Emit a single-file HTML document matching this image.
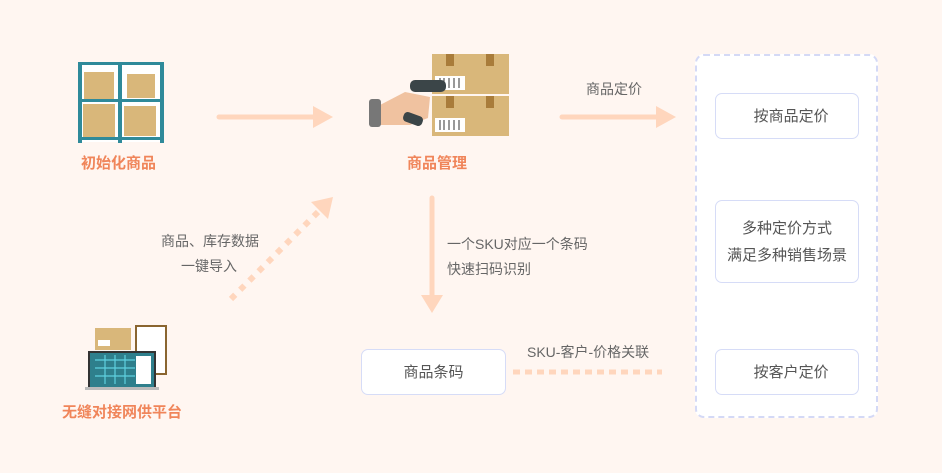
<!DOCTYPE html>
<html><head><meta charset="utf-8"><style>
body{margin:0;width:942px;height:473px;background:#fff6f1;position:relative;overflow:hidden;font-family:"Liberation Sans","Noto Sans CJK SC",sans-serif;}
.t{position:absolute;color:#666;font-size:14px;white-space:nowrap;line-height:24px}
.o{position:absolute;color:#f0855a;font-size:15px;font-weight:bold;white-space:nowrap}
.box{position:absolute;background:#fff;border:1px solid #d6dcf7;border-radius:7px;box-sizing:border-box;display:flex;align-items:center;justify-content:center;text-align:center;color:#555;font-size:15px;line-height:27px}
</style></head><body>
<div style="position:absolute;left:695px;top:54px;width:183px;height:364px;background:#fff;border:2px dashed #d4d9f6;border-radius:9px;box-sizing:border-box"></div>
<div class="box" style="left:715px;top:93px;width:144px;height:46px">&nbsp;&nbsp;按商品定价</div>
<div class="box" style="left:715px;top:200px;width:144px;height:83px">多种定价方式<br>满足多种销售场景</div>
<div class="box" style="left:715px;top:349px;width:144px;height:46px">&nbsp;&nbsp;按客户定价</div>
<div class="box" style="left:361px;top:349px;width:145px;height:46px">商品条码</div>

<svg width="942" height="473" style="position:absolute;left:0;top:0">
<g stroke="#ffd6bd" stroke-linecap="round" fill="#ffd6bd">
<line x1="219" y1="117" x2="315" y2="117" stroke-width="5"/>
<polygon points="313,106 333,117 313,128" stroke="none"/>
<line x1="562" y1="117" x2="658" y2="117" stroke-width="5"/>
<polygon points="656,106 676,117 656,128" stroke="none"/>
<line x1="432" y1="198" x2="432" y2="296" stroke-width="5"/>
<polygon points="421,295 432,313 443,295" stroke="none"/>
<line x1="231" y1="299" x2="318" y2="212" stroke-width="6" stroke-dasharray="6,7" stroke-linecap="butt"/>
<polygon points="333,197 328,219 311,202" stroke="none"/>
<line x1="513" y1="372" x2="662" y2="372" stroke-width="5" stroke-dasharray="7,5" stroke-linecap="butt"/>
</g>
<!-- shelf icon -->
<g>
<rect x="79" y="62" width="84" height="80" fill="#fff"/>
<rect x="84" y="72" width="30" height="28" fill="#d9b77a"/>
<rect x="127" y="74" width="28" height="24" fill="#d9b77a"/>
<rect x="83" y="104" width="32" height="33" fill="#d9b77a"/>
<rect x="124" y="106" width="32" height="30" fill="#d9b77a"/>
<g fill="#2f8a9a"><rect x="78" y="62" width="4" height="81"/><rect x="118" y="62" width="4" height="81"/><rect x="160" y="62" width="4" height="81"/><rect x="78" y="62" width="86" height="3"/><rect x="78" y="99" width="86" height="3"/><rect x="78" y="137" width="86" height="3"/></g>
</g>
<!-- scanner icon -->
<g>
<rect x="432" y="54" width="77" height="40" fill="#d9b77a"/>
<rect x="432" y="96" width="77" height="40" fill="#d9b77a"/>
<rect x="446" y="54" width="8" height="12" fill="#a97c3a"/><rect x="486" y="54" width="8" height="12" fill="#a97c3a"/>
<rect x="446" y="96" width="8" height="12" fill="#a97c3a"/><rect x="486" y="96" width="8" height="12" fill="#a97c3a"/>
<rect x="435" y="76" width="30" height="14" fill="#fff"/><rect x="435" y="118" width="30" height="14" fill="#fff"/>
<g stroke="#333" stroke-width="1"><line x1="440" y1="78" x2="440" y2="88"/><line x1="444" y1="78" x2="444" y2="88"/><line x1="449" y1="78" x2="449" y2="88"/><line x1="454" y1="78" x2="454" y2="88"/><line x1="459" y1="78" x2="459" y2="88"/><line x1="440" y1="120" x2="440" y2="130"/><line x1="444" y1="120" x2="444" y2="130"/><line x1="449" y1="120" x2="449" y2="130"/><line x1="454" y1="120" x2="454" y2="130"/><line x1="459" y1="120" x2="459" y2="130"/></g>
<path d="M380 105 L405 92 L430 97 L428 118 L410 125 L380 125Z" fill="#f0c2a0"/>
<rect x="410" y="80" width="36" height="12" rx="5" fill="#3b4548"/>
<rect x="403" y="114" width="20" height="10" rx="4" fill="#3b4548" transform="rotate(20 413 119)"/>
<rect x="369" y="99" width="12" height="28" rx="3" fill="#777"/>
</g>
<!-- platform icon -->
<g>
<rect x="95" y="328" width="36" height="22" fill="#d9b77a"/>
<rect x="98" y="340" width="12" height="6" fill="#fff"/>
<rect x="136" y="326" width="30" height="48" fill="#fff" stroke="#8a6530" stroke-width="2"/>
<rect x="89" y="352" width="66" height="36" fill="#2e7f8c" stroke="#333" stroke-width="2"/>
<g stroke="#5fd0e0" stroke-width="1.2"><line x1="95" y1="360" x2="135" y2="360"/><line x1="95" y1="368" x2="135" y2="368"/><line x1="95" y1="376" x2="135" y2="376"/><line x1="105" y1="355" x2="105" y2="384"/><line x1="115" y1="355" x2="115" y2="384"/><line x1="125" y1="355" x2="125" y2="384"/></g>
<rect x="136" y="356" width="15" height="28" fill="#fff"/>
<rect x="85" y="387" width="74" height="3" fill="#bbb"/>
</g>
</svg>

<div class="o" style="left:81px;top:152px">初始化商品</div>
<div class="o" style="left:407px;top:152px">商品管理</div>
<div class="o" style="left:62px;top:401px">无缝对接网供平台</div>
<div class="t" style="left:586px;top:77px">商品定价</div>
<div class="t" style="left:161px;top:229px">商品、库存数据</div>
<div class="t" style="left:181px;top:254px">一键导入</div>
<div class="t" style="left:447px;top:232px">一个SKU对应一个条码</div>
<div class="t" style="left:447px;top:257px">快速扫码识别</div>
<div class="t" style="left:527px;top:340px">SKU-客户-价格关联</div>
</body></html>
